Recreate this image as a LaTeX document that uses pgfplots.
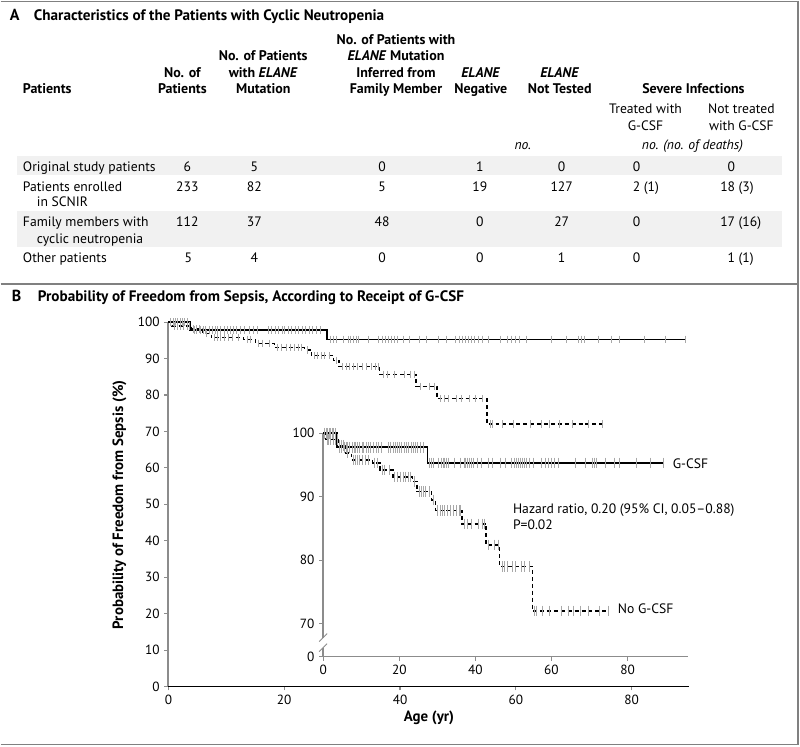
\documentclass[border=0pt]{standalone}
\usepackage{pgfplots}
\pgfplotsset{compat=1.18}
\usepackage{fontspec}
\setmainfont{PT Sans}
\definecolor{rowshade}{gray}{0.945}
\definecolor{axgray}{gray}{0.55}
\definecolor{cens}{gray}{0.66}
\definecolor{bord}{gray}{0.5}

\pgfplotstableread{
x y
0 100
3.7 97.8
27.4 95.3
89.3 95.3
}\gcsf

\pgfplotstableread{
x y
0 100
0.6 99.0
4 98.1
6 96.9
7.4 95.8
13 95.3
15 94.2
18.3 93.1
23.5 92.4
24.7 90.8
28.5 89.5
29.5 87.8
36.5 85.7
42.8 82.4
46.4 79.0
55 72.0
75 72.0
}\nogcsf

\pgfplotstableread{
x y
0.4 100
0.8 100
1.2 100
1.6 100
2.0 100
2.4 100
2.8 100
3.2 100
4.4 97.8
4.9 97.8
5.5 97.8
6.0 97.8
6.4 97.8
7.0 97.8
7.6 97.8
8.1 97.8
8.5 97.8
9.0 97.8
9.6 97.8
10.2 97.8
10.7 97.8
11.3 97.8
11.8 97.8
12.5 97.8
13.2 97.8
13.9 97.8
14.6 97.8
15.3 97.8
17.2 97.8
17.8 97.8
18.4 97.8
19.0 97.8
19.6 97.8
20.1 97.8
20.7 97.8
21.3 97.8
21.9 97.8
22.5 97.8
23.1 97.8
23.7 97.8
24.3 97.8
24.9 97.8
25.6 97.8
26.3 97.8
28.0 95.3
28.5 95.3
29.0 95.3
30.2 95.3
31.0 95.3
31.5 95.3
32.0 95.3
32.4 95.3
32.8 95.3
34.5 95.3
36.2 95.3
37.0 95.3
37.5 95.3
38.0 95.3
38.5 95.3
39.0 95.3
39.5 95.3
40.5 95.3
41.7 95.3
43.4 95.3
44.6 95.3
46.6 95.3
48.0 95.3
49.5 95.3
50.3 95.3
50.8 95.3
51.3 95.3
51.8 95.3
52.3 95.3
52.8 95.3
53.5 95.3
54.2 95.3
55.2 95.3
57.3 95.3
58.5 95.3
59.2 95.3
60.0 95.3
60.7 95.3
61.9 95.3
66.2 95.3
68.8 95.3
70.8 95.3
71.4 95.3
71.9 95.3
74.2 95.3
76.5 95.3
77.9 95.3
82.2 95.3
85.9 95.3
89.3 95.3
}\gcsfcens

\pgfplotstableread{
x y
0.3 100
1.0 99.0
1.5 99.0
2.0 99.0
2.6 99.0
3.2 99.0
3.7 99.0
4.3 98.1
4.8 98.1
5.4 98.1
6.5 96.9
8.0 95.8
8.5 95.8
9.0 95.8
9.6 95.8
10.3 95.8
11.0 95.8
12.0 95.8
13.6 95.3
14.2 95.3
15.5 94.2
16.2 94.2
17.4 94.2
18.8 93.1
19.5 93.1
20.3 93.1
21.0 93.1
21.7 93.1
22.4 93.1
23.0 93.1
24.0 92.4
25.2 90.8
25.8 90.8
26.4 90.8
27.0 90.8
27.8 90.8
29.0 89.5
30.0 87.8
30.7 87.8
31.3 87.8
32.0 87.8
32.7 87.8
33.5 87.8
34.2 87.8
35.0 87.8
35.8 87.8
36.2 87.8
37.2 85.7
37.8 85.7
39.0 85.7
40.8 85.7
41.8 85.7
42.4 85.7
43.5 82.4
45.0 82.4
46.0 82.4
47.0 79.0
47.6 79.0
48.3 79.0
49.8 79.0
50.6 79.0
52.0 79.0
53.0 79.0
54.3 79.0
55.6 72.0
56.0 72.0
57.7 72.0
59.5 72.0
62.5 72.0
64.5 72.0
65.8 72.0
67.5 72.0
69.8 72.0
72.5 72.0
75.0 72.0
}\nogcsfcens

\pgfplotsset{
  kmaxis/.style={
    scale only axis,
    axis x line*=bottom, axis y line*=left,
    tick align=outside,
    major tick length=3pt,
    every tick/.style={axgray, line width=0.8pt},
    tick label style={font=\fontsize{10}{11}\selectfont, black},
    /pgf/number format/assume math mode=true,
    clip=false,
  },
}

\begin{document}
\begin{tikzpicture}
\begin{scope}[x=0.75pt,y=-0.75pt]
\path (0,0) rectangle (800,746);
% frame lines
\draw[bord, line width=1.1pt] (0,1) -- (800,1);
\draw[bord, line width=1.1pt] (798.5,0) -- (798.5,746);
\draw[bord, line width=1.1pt] (0,284) -- (800,284);
\draw[bord, line width=1.1pt] (0,745) -- (800,745);
% row shading
\fill[rowshade] (16,156) rectangle (783,175);
\fill[rowshade] (16,211) rectangle (783,247);

\begin{scope}[every node/.style={inner sep=0pt, font=\fontsize{10.25}{11}\selectfont}]
% panel A title
\node[anchor=base west, font=\fontsize{12}{13}\selectfont\bfseries] at (9,20) {A};
\node[anchor=base west, font=\fontsize{11.4}{13}\selectfont\bfseries] at (33,20) {Characteristics of the Patients with Cyclic Neutropenia};
% headers
\begin{scope}[every node/.append style={anchor=base, font=\fontsize{10.5}{11}\selectfont\bfseries}]
\node[anchor=base west] at (22,93) {Patients};
\node at (182,76.5) {No. of};
\node at (182,93) {Patients};
\node at (263,60) {No. of Patients};
\node at (263,76.5) {with \textit{ELANE}};
\node at (263,93) {Mutation};
\node at (396,43.5) {No. of Patients with};
\node at (396,60) {\textit{ELANE} Mutation};
\node at (396,76.5) {Inferred from};
\node at (396,93) {Family Member};
\node at (481,76.5) {\textit{ELANE}};
\node at (481,93) {Negative};
\node at (560,76.5) {\textit{ELANE}};
\node at (560,93) {Not Tested};
\node at (694,93) {Severe Infections};
\end{scope}
\begin{scope}[every node/.append style={anchor=base}]
\node at (646,113) {Treated with};
\node at (646,129.5) {G-CSF};
\node at (742,113) {Not treated};
\node at (742,129.5) {with G-CSF};
\node at (523,149.5) {\textit{no.}};
\node at (693,149.5) {\textit{no. (no. of deaths)}};
\end{scope}
% rows
\begin{scope}[every node/.append style={anchor=base}]
\node[anchor=base west] at (22,171) {Original study patients};
\node[anchor=base west] at (22,191) {Patients enrolled};
\node[anchor=base west] at (36,206.5) {in SCNIR};
\node[anchor=base west] at (22,226) {Family members with};
\node[anchor=base west] at (36,243) {cyclic neutropenia};
\node[anchor=base west] at (22,262.5) {Other patients};
% col1
\node at (187,171) {6};
\node at (187,191) {233};
\node at (187,226) {112};
\node at (188,262.5) {5};
% col2
\node at (254,171) {5};
\node at (254,191) {82};
\node at (254,226) {37};
\node at (254,262.5) {4};
% col3
\node at (382,171) {0};
\node at (382,191) {5};
\node at (382,226) {48};
\node at (382,262.5) {0};
% col4
\node at (480,171) {1};
\node at (480,191) {19};
\node at (480,226) {0};
\node at (480,262.5) {0};
% col5
\node at (562,171) {0};
\node at (562,191) {127};
\node at (562,226) {27};
\node at (562,262.5) {1};
% col6
\node[anchor=base west] at (633,171) {0};
\node[anchor=base west] at (633,191) {2 (1)};
\node[anchor=base west] at (633,226) {0};
\node[anchor=base west] at (633,262.5) {0};
% col7
\node[anchor=base east] at (736,171) {0};
\node[anchor=base east] at (736,191) {18};
\node[anchor=base west] at (739,191) {(3)};
\node[anchor=base east] at (736,226) {17};
\node[anchor=base west] at (739,226) {(16)};
\node[anchor=base east] at (736,262.5) {1};
\node[anchor=base west] at (739,262.5) {(1)};
\end{scope}

% panel B title
\node[anchor=base west, font=\fontsize{12}{13}\selectfont\bfseries] at (11,301.5) {B};
\node[anchor=base west, font=\fontsize{11.4}{13}\selectfont\bfseries] at (37,301.5) {Probability of Freedom from Sepsis, According to Receipt of G-CSF};
% axis labels
\node[rotate=90, font=\fontsize{11.2}{12}\selectfont\bfseries] at (119,505) {Probability of Freedom from Sepsis (\%)};
\node[font=\fontsize{11.2}{12}\selectfont\bfseries] at (429,718) {Age (yr)};
% annotations
\node[anchor=base west] at (673,469) {G-CSF};
\node[anchor=base west] at (618,614) {No G-CSF};
\node[anchor=base west] at (513,514) {Hazard ratio, 0.20 (95\% CI, 0.05--0.88)};
\node[anchor=base west] at (513,529.5) {P=0.02};
\end{scope}
\end{scope}

% main axis
\begin{axis}[kmaxis,
  at={(126pt,-515.25pt)}, anchor=south west,
  width=391.5pt, height=273.75pt,
  xmin=0, xmax=90, ymin=0, ymax=100,
  xtick={0,20,40,60,80}, ytick={0,10,...,100},
  x axis line style={black, line width=0.8pt, -},
  y axis line style={axgray, line width=1.4pt, -},
]
\addplot[only marks, mark=|, mark size=2.8pt, mark options={cens, line width=0.6pt}] table {\gcsfcens};
\addplot[only marks, mark=|, mark size=2.8pt, mark options={cens, line width=0.6pt}] table {\nogcsfcens};
\addplot[const plot, black, line width=1.1pt] table {\gcsf};
\addplot[const plot, black, line width=1.1pt, dash pattern=on 3pt off 2.2pt] table {\nogcsf};
\end{axis}

% inset axis
\begin{axis}[kmaxis,
  at={(242.25pt,-492.75pt)}, anchor=south west,
  width=274.5pt, height=167.8pt,
  xmin=0, xmax=96, ymin=64.8, ymax=100,
  xtick={0,20,40,60,80}, ytick={64.8,70,80,90,100},
  yticklabels={0,70,80,90,100},
  x axis line style={axgray, line width=1.1pt, -},
  y axis line style={axgray, line width=1.4pt, -},
]
\addplot[only marks, mark=|, mark size=4pt, mark options={cens, line width=0.65pt}] table {\gcsfcens};
\addplot[only marks, mark=|, mark size=4pt, mark options={cens, line width=0.65pt}] table {\nogcsfcens};
\addplot[const plot, black, line width=1.1pt] table {\gcsf};
\addplot[const plot, black, line width=1.1pt, dash pattern=on 3pt off 2.2pt] table {\nogcsf};
\fill[white] ([xshift=-3pt]axis cs:0,66.2) rectangle ([xshift=3pt]axis cs:0,67.8);
\draw[axgray, line width=0.7pt] ([xshift=-3pt,yshift=-3pt]axis cs:0,66.2) -- ([xshift=3pt,yshift=3pt]axis cs:0,66.2);
\draw[axgray, line width=0.7pt] ([xshift=-3pt,yshift=-3pt]axis cs:0,67.8) -- ([xshift=3pt,yshift=3pt]axis cs:0,67.8);
\end{axis}
\end{tikzpicture}
\end{document}
